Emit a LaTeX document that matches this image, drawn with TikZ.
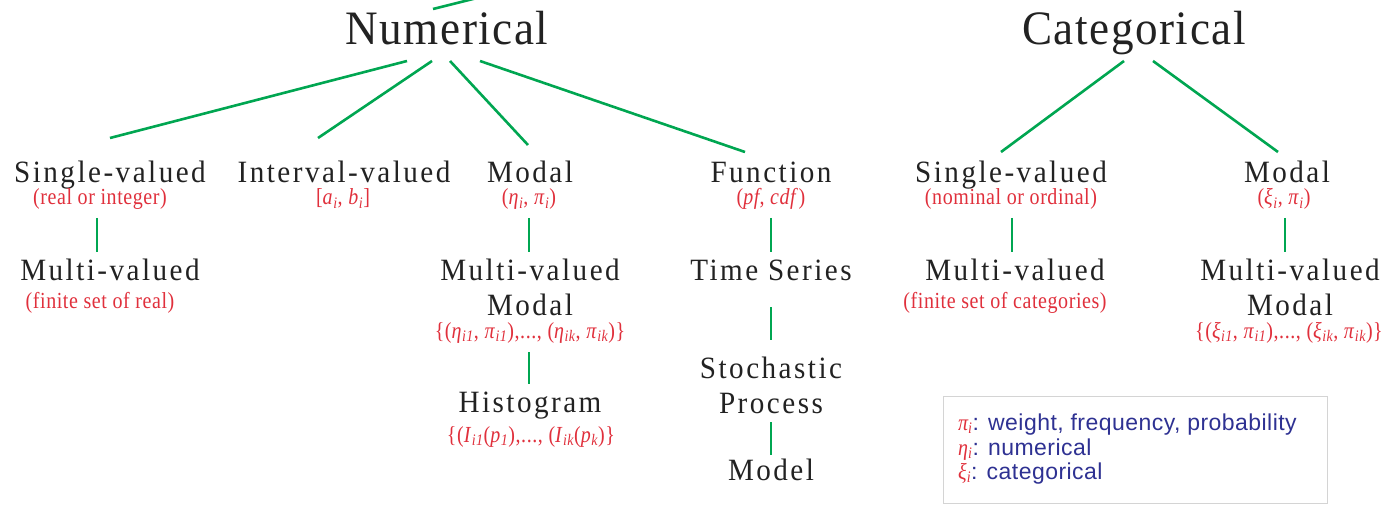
\documentclass[tikz,border=0pt]{standalone}
\usepackage{fontspec}
\setmainfont{Liberation Serif}
\newfontfamily\bigfont[LetterSpace=3.2,FakeStretch=0.94]{Liberation Serif}
\newfontfamily\midfont[LetterSpace=8,FakeStretch=0.94]{Liberation Serif}
\newfontfamily\smallfont[LetterSpace=2.5,FakeStretch=0.87]{Liberation Serif}
\newfontfamily\legfont[LetterSpace=2]{Liberation Sans}
\usetikzlibrary{calc}
\definecolor{lgreen}{HTML}{00A651}
\definecolor{lred}{HTML}{E0303C}
\definecolor{lblue}{HTML}{2E3192}
\definecolor{ltext}{HTML}{222222}
\definecolor{lbox}{HTML}{D4D4D4}
\newcommand{\mysub}[1]{\textsubscript{\itshape #1}}
\tikzset{
  big/.style={anchor=base, text=ltext, font=\bigfont\fontsize{48}{48}\selectfont, inner sep=0pt},
  lab/.style={anchor=base, text=ltext, font=\midfont\fontsize{31}{31}\selectfont, inner sep=0pt},
  subl/.style={anchor=base, text=lred, font=\smallfont\fontsize{23}{23}\selectfont, inner sep=0pt},
  conn/.style={draw=lgreen, line width=2.6pt},
  leg/.style={anchor=base west, font=\legfont\fontsize{23}{23}\selectfont, text=lblue, inner sep=0pt},
  gk/.style={}
}
\begin{document}
\begin{tikzpicture}[x=1pt,y=-1pt]
\useasboundingbox (0,0) rectangle (1397,505);
% top level
\node[big] (num) at (447,45) {Numerical};
\node[big] (cat) at (1134,45) {Categorical};
% level 2
\node[lab] (sv) at (110,183) {Single-valued};
\node[subl] (svs) at (100,205) {(real or integer)};
\node[lab] (iv) at (344,183) {Interval-valued};
\node[subl] (ivs) at (343,205) {[\textit{a}\mysub{i}, \textit{b}\mysub{i}]};
\node[lab] (mod) at (530,183) {Modal};
\node[subl] (mods) at (529,205) {(\textit{η}\mysub{i}, \textit{π}\mysub{i})};
\node[lab] (fun) at (771,183) {Function};
\node[subl] (funs) at (771,205) {(\textit{pf}, \textit{cdf})};
\node[lab] (csv) at (1011,183) {Single-valued};
\node[subl] (csvs) at (1011,205) {(nominal or ordinal)};
\node[lab] (cmod) at (1287,183) {Modal};
\node[subl] (cmods) at (1284,205) {(\textit{ξ}\mysub{i}, \textit{π}\mysub{i})};
% level 3
\node[lab] (mv) at (110,280) {Multi-valued};
\node[subl] (mvs) at (100,308) {(finite set of real)};
\node[lab] (mvm) at (530,280) {Multi-valued};
\node[lab] (mvm2) at (530,315) {Modal};
\node[subl] (mvms) at (530,338) {\{(\textit{η}\mysub{i1}, \textit{π}\mysub{i1}),..., (\textit{η}\mysub{ik}, \textit{π}\mysub{ik})\}};
\node[lab] (ts) at (771,280) {Time Series};
\node[lab] (cmv) at (1015,280) {Multi-valued};
\node[subl] (cmvs) at (1005,308) {(finite set of categories)};
\node[lab] (cmvm) at (1290,280) {Multi-valued};
\node[lab] (cmvm2) at (1290,315) {Modal};
\node[subl] (cmvms) at (1289,338) {\{(\textit{ξ}\mysub{i1}, \textit{π}\mysub{i1}),..., (\textit{ξ}\mysub{ik}, \textit{π}\mysub{ik})\}};
% level 4
\node[lab] (hist) at (530,412) {Histogram};
\node[subl] (hists) at (531,442) {\{(\textit{I}\mysub{i1}(\textit{p}\mysub{1}),..., (\textit{I}\mysub{ik}(\textit{p}\mysub{k})\}};
\node[lab] (sp) at (771,378) {Stochastic};
\node[lab] (sp2) at (771,413) {Process};
\node[lab] (model) at (771,480) {Model};
% connectors
\coordinate (numtop) at (505,-9);
\draw[conn] ($(num.base)+(-14,-36)$) -- (numtop);
\draw[conn] ($(num.base)+(-40,16)$) -- ($(sv.base)+(0,-45)$);
\draw[conn] ($(num.base)+(-15,16)$) -- ($(iv.base)+(-26,-45)$);
\draw[conn] ($(num.base)+(3,16)$) -- ($(mod.base)+(-2,-38)$);
\draw[conn] ($(num.base)+(33,16)$) -- ($(fun.base)+(-26,-31)$);
\draw[conn] ($(cat.base)+(-10,16)$) -- ($(csv.base)+(-10,-31)$);
\draw[conn] ($(cat.base)+(19,16)$) -- ($(cmod.base)+(-9,-31)$);
\draw[conn] ($(svs.base)+(-3,13)$) -- ($(svs.base |- mv.base)+(-3,-28)$);
\draw[conn] ($(mods.base)+(0,13)$) -- ($(mods.base |- mvm.base)+(0,-28)$);
\draw[conn] ($(funs.base)+(0,13)$) -- ($(funs.base |- ts.base)+(0,-28)$);
\draw[conn] ($(csvs.base)+(1,13)$) -- ($(csvs.base |- cmv.base)+(1,-28)$);
\draw[conn] ($(cmods.base)+(1,13)$) -- ($(cmods.base |- cmvm.base)+(1,-28)$);
\draw[conn] ($(ts.base)+(0,27)$) -- ($(sp.base)+(0,-38)$);
\draw[conn] ($(mvms.base)+(-1,14)$) -- ($(mvms.base |- hist.base)+(-1,-28)$);
\draw[conn] ($(sp2.base)+(0,9)$) -- ($(model.base)+(0,-25)$);
% legend
\node[draw=lbox, line width=1.2pt, anchor=north west, minimum width=384pt, minimum height=107pt, inner sep=0pt] (legbox) at (943,396) {};
\node[leg] (l1) at (958,430) {{\color{lred}\smallfont\fontsize{23}{23}\selectfont\itshape π\mysub{i}}: weight, frequency, probability};
\node[leg] (l2) at (958,455) {{\color{lred}\smallfont\fontsize{23}{23}\selectfont\itshape η\mysub{i}}: numerical};
\node[leg] (l3) at (958,479) {{\color{lred}\smallfont\fontsize{23}{23}\selectfont\itshape ξ\mysub{i}}: categorical};
\end{tikzpicture}
\end{document}
